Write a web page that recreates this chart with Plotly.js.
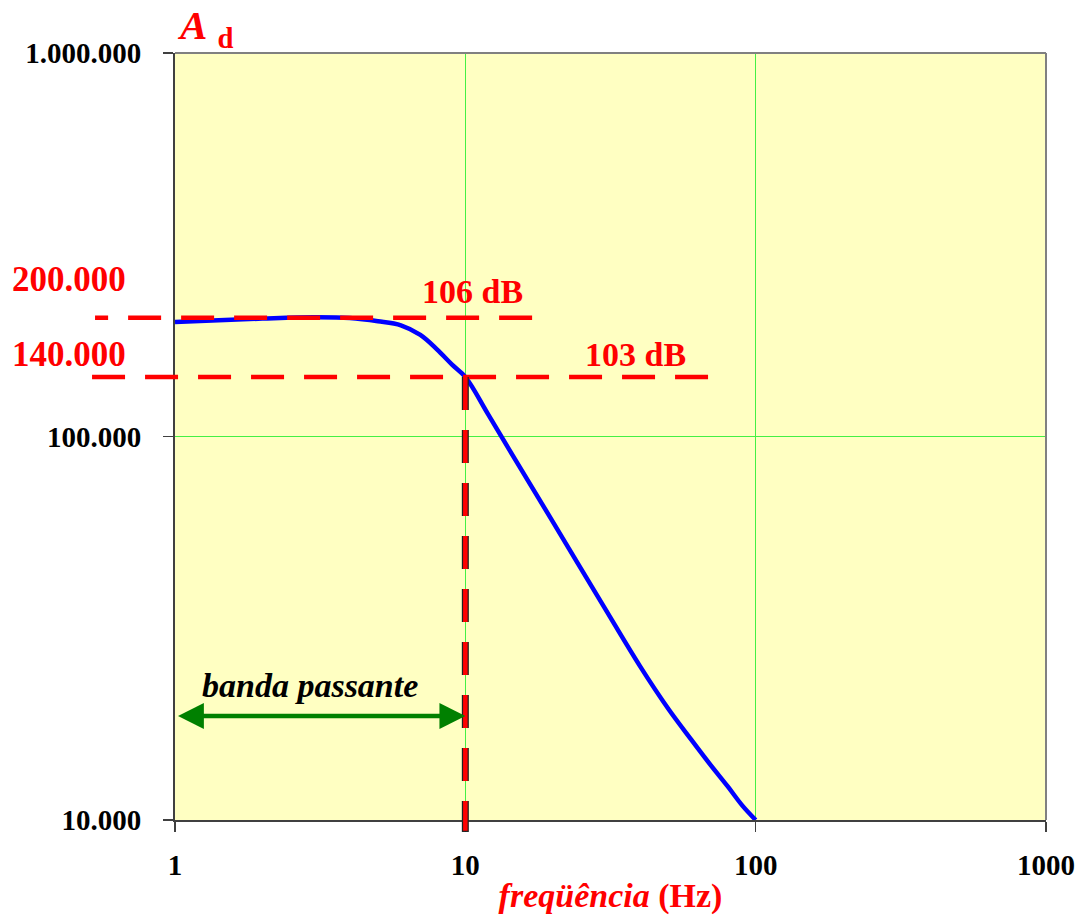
<!DOCTYPE html>
<html>
<head>
<meta charset="utf-8">
<script src="https://cdn.plot.ly/plotly-3.0.1.min.js"></script>
<style>
  html, body { margin: 0; padding: 0; background: #ffffff; }
  #chart { width: 1075px; height: 920px; }
</style>
</head>
<body>
<div id="chart"></div>
<script>
// ---- data ----
const freq = [1, 2, 3, 4, 5, 6, 7, 8, 9, 10, 12, 15, 20, 30, 40, 50, 60, 70, 80, 90, 100];
const gain = [199000, 203000, 204600, 203700, 199800, 195000, 184000, 168500, 154000, 143000,
              114000, 86000, 60000, 36000, 25150, 19500, 16200, 13900, 12250, 10900, 10000];

const xTickVals = [1, 10, 100, 1000];
const xTickText = ['1', '10', '100', '1000'];
const yTickVals = [10000, 100000, 1000000];
const yTickText = ['10.000', '100.000', '1.000.000'];

const refLevels = [204000, 143000];          // 106 dB and 103 dB lines
const refLevelLabels = ['200.000', '140.000'];
const refDbLabels = ['106 dB', '103 dB'];
const cutoffFreq = 10;
const bandStart = 1;

const FONT = 'Liberation Serif, Times New Roman, serif';
const RED = '#FF0000';

const dashH = '33px,20px';

const shapes = [
  // top and right frame lines
  {type: 'line', xref: 'paper', yref: 'paper', x0: 0, x1: 1, y0: 1, y1: 1,
   line: {color: '#808080', width: 2}},
  {type: 'line', xref: 'paper', yref: 'paper', x0: 1, x1: 1, y0: 0, y1: 1,
   line: {color: '#808080', width: 2}},
  // 106 dB line (drawn right to left)
  {type: 'line', xref: 'paper', yref: 'y', x0: 0.410, x1: -0.0918, y0: refLevels[0], y1: refLevels[0],
   line: {color: RED, width: 4.5, dash: dashH}, layer: 'above'},
  // 103 dB line
  {type: 'line', xref: 'paper', yref: 'y', x0: 0.612, x1: -0.0953, y0: refLevels[1], y1: refLevels[1],
   line: {color: RED, width: 4.5, dash: dashH}, layer: 'above'},
  // vertical cutoff line: dark outline then red
  {type: 'line', xref: 'x', yref: 'y', x0: cutoffFreq, x1: cutoffFreq, y0: refLevels[1], y1: yTickVals[0],
   line: {color: '#202020', width: 7, dash: dashH}, layer: 'above'},
  {type: 'line', xref: 'x', yref: 'y domain', x0: cutoffFreq, x1: cutoffFreq, y0: 0, y1: -0.0156,
   line: {color: '#202020', width: 7}, layer: 'above'},
  {type: 'line', xref: 'x', yref: 'y', x0: cutoffFreq, x1: cutoffFreq, y0: refLevels[1], y1: yTickVals[0],
   line: {color: RED, width: 4.5, dash: dashH}, layer: 'above'},
  {type: 'line', xref: 'x', yref: 'y domain', x0: cutoffFreq, x1: cutoffFreq, y0: 0.0, y1: -0.0140,
   line: {color: RED, width: 4.5}, layer: 'above'}
];

const annotations = [
  // Y title "A d"
  {xref: 'paper', yref: 'paper', x: 0.0, y: 1, xanchor: 'left', yanchor: 'bottom', yshift: -3,
   text: '<i>A</i> <sub>d</sub>', showarrow: false,
   font: {family: FONT, size: 41, color: RED, weight: 'bold'}},
  // level labels
  {xref: 'paper', yref: 'y', x: -0.189, y: Math.log10(refLevels[0]), xanchor: 'left', yanchor: 'middle',
   yshift: 38, text: refLevelLabels[0], showarrow: false,
   font: {family: FONT, size: 35, color: RED, weight: 'bold'}},
  {xref: 'paper', yref: 'y', x: -0.189, y: Math.log10(refLevels[1]), xanchor: 'left', yanchor: 'middle',
   yshift: 22, text: refLevelLabels[1], showarrow: false,
   font: {family: FONT, size: 35, color: RED, weight: 'bold'}},
  {xref: 'paper', yref: 'y', x: 0.341, y: Math.log10(refLevels[0]), xanchor: 'center', yanchor: 'middle',
   yshift: 26, text: refDbLabels[0], showarrow: false,
   font: {family: FONT, size: 34, color: RED, weight: 'bold'}},
  {xref: 'paper', yref: 'y', x: 0.529, y: Math.log10(refLevels[1]), xanchor: 'center', yanchor: 'middle',
   yshift: 22, text: refDbLabels[1], showarrow: false,
   font: {family: FONT, size: 34, color: RED, weight: 'bold'}},
  // banda passante
  {xref: 'paper', yref: 'paper', x: 0.155, y: 0.176, xanchor: 'center', yanchor: 'middle',
   text: '<i>banda passante</i>', showarrow: false,
   font: {family: FONT, size: 34, color: '#000000', weight: 'bold'}},
  // double arrow
  {xref: 'x', yref: 'paper', axref: 'x', ayref: 'paper',
   x: Math.log10(cutoffFreq), y: 0.1356, ax: Math.log10(bandStart), ay: 0.1356,
   text: ' ', showarrow: true, arrowside: 'end+start',
   arrowhead: 2, startarrowhead: 2, arrowsize: 1.15, startarrowsize: 1.15,
   arrowwidth: 4.5, arrowcolor: '#008000', standoff: 0, startstandoff: 0}
];

const data = [{
  x: freq, y: gain, type: 'scatter', mode: 'lines',
  line: {color: '#0000FF', width: 4.5, shape: 'spline', smoothing: 1},
  hoverinfo: 'x+y'
}];

const layout = {
  width: 1075, height: 920,
  margin: {l: 175, r: 29, t: 53, b: 100, pad: 0},
  paper_bgcolor: '#FFFFFF',
  plot_bgcolor: '#FFFFC2',
  showlegend: false,
  xaxis: {
    type: 'log', range: [0, 3],
    tickmode: 'array', tickvals: xTickVals, ticktext: xTickText,
    ticks: 'outside', ticklen: 10, tickwidth: 1.5, tickcolor: '#404040',
    showline: true, linecolor: '#404040', linewidth: 2,
    showgrid: true, gridcolor: '#44F044', gridwidth: 1.5,
    tickfont: {family: FONT, size: 29, color: '#000000', weight: 'bold'},
    ticklabelstandoff: 8,
    title: {text: '<i>freqüência</i> (Hz)', standoff: 3,
            font: {family: FONT, size: 34, color: RED, weight: 'bold'}}
  },
  yaxis: {
    type: 'log', range: [4, 6],
    tickmode: 'array', tickvals: yTickVals, ticktext: yTickText,
    ticks: 'outside', ticklen: 10, tickwidth: 1.5, tickcolor: '#404040',
    showline: true, linecolor: '#404040', linewidth: 2,
    showgrid: true, gridcolor: '#44F044', gridwidth: 1.5,
    tickfont: {family: FONT, size: 29, color: '#000000', weight: 'bold'},
    ticklabelstandoff: 16
  },
  shapes: shapes,
  annotations: annotations
};

Plotly.newPlot('chart', data, layout, {displayModeBar: false, staticPlot: true});
</script>
</body>
</html>
